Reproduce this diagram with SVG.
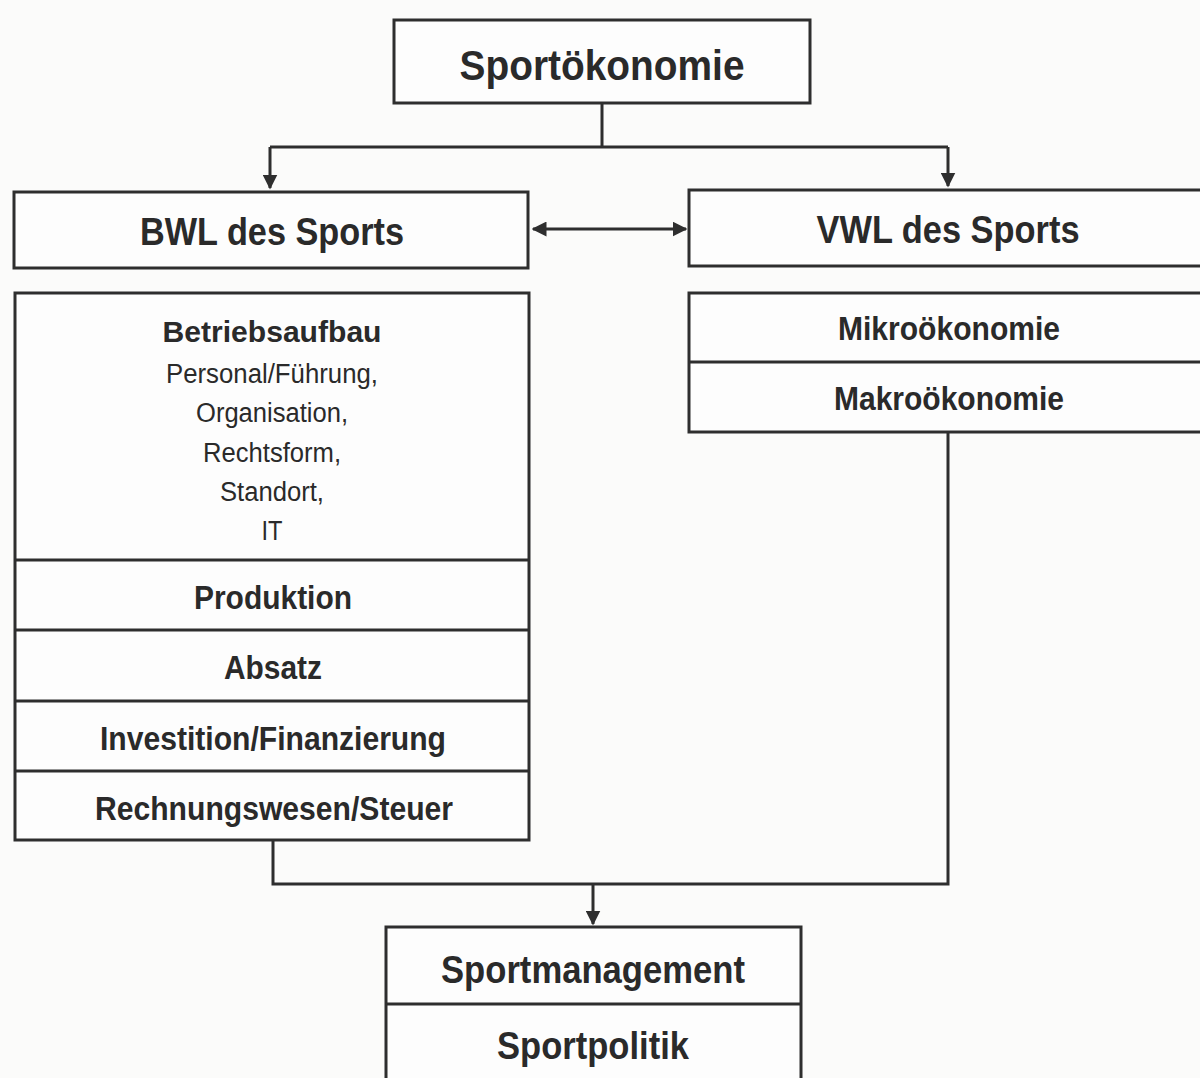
<svg xmlns="http://www.w3.org/2000/svg" width="1200" height="1078" viewBox="0 0 1200 1078">
<defs>
<style>
.box{fill:#fdfdfd;stroke:#2e2e2e;stroke-width:3}
.ln{fill:none;stroke:#2e2e2e;stroke-width:3}
.t{font-family:"Liberation Sans",Arial,sans-serif;fill:#2a2a2a;text-anchor:middle}
.b{font-weight:bold}
.h1{font-size:43px}
.h2{font-size:39px}
.h3{font-size:33px}
.h4{font-size:30px}
.r{font-size:27px}
</style>
<marker id="ah" viewBox="0 0 10 10" refX="9" refY="5" markerWidth="5" markerHeight="5" orient="auto-start-reverse" markerUnits="strokeWidth">
<path d="M0,0 L10,5 L0,10 z" fill="#2e2e2e"/>
</marker>
</defs>
<rect width="1200" height="1078" fill="#fbfbfa"/>
<g id="connectors">
<path class="ln" d="M602,103 V147 M270,147 H948"/>
<path class="ln" d="M270,147 V188" marker-end="url(#ah)"/>
<path class="ln" d="M948,147 V186" marker-end="url(#ah)"/>
<path class="ln" d="M533,229 H686" marker-start="url(#ah)" marker-end="url(#ah)"/>
<path class="ln" d="M273,840 V884 H948 V432"/>
<path class="ln" d="M593,884 V924" marker-end="url(#ah)"/>
</g>
<g id="sportoekonomie">
<rect class="box" x="394" y="20" width="416" height="83"/>
<text class="t b h1" x="602" y="80" textLength="285" lengthAdjust="spacingAndGlyphs">Sportökonomie</text>
</g>
<g id="bwl">
<rect class="box" x="14" y="192" width="514" height="76"/>
<text class="t b h2" x="272" y="245" textLength="264" lengthAdjust="spacingAndGlyphs">BWL des Sports</text>
</g>
<g id="vwl">
<rect class="box" x="689" y="190" width="530" height="76"/>
<text class="t b h2" x="948" y="243" textLength="263" lengthAdjust="spacingAndGlyphs">VWL des Sports</text>
</g>
<g id="bwl-list">
<rect class="box" x="15" y="293" width="514" height="547"/>
<path class="ln" d="M15,560 H529 M15,630 H529 M15,701 H529 M15,771 H529"/>
<text class="t b h4" x="272" y="342" textLength="219" lengthAdjust="spacingAndGlyphs">Betriebsaufbau</text>
<text class="t r" x="272" y="383" textLength="212" lengthAdjust="spacingAndGlyphs">Personal/Führung,</text>
<text class="t r" x="272" y="422" textLength="152" lengthAdjust="spacingAndGlyphs">Organisation,</text>
<text class="t r" x="272" y="462" textLength="138" lengthAdjust="spacingAndGlyphs">Rechtsform,</text>
<text class="t r" x="272" y="501" textLength="104" lengthAdjust="spacingAndGlyphs">Standort,</text>
<text class="t r" x="272" y="540" textLength="21" lengthAdjust="spacingAndGlyphs">IT</text>
<text class="t b h3" x="273" y="609" textLength="158" lengthAdjust="spacingAndGlyphs">Produktion</text>
<text class="t b h3" x="273" y="679" textLength="98" lengthAdjust="spacingAndGlyphs">Absatz</text>
<text class="t b h3" x="273" y="750" textLength="346" lengthAdjust="spacingAndGlyphs">Investition/Finanzierung</text>
<text class="t b h3" x="274" y="820" textLength="358" lengthAdjust="spacingAndGlyphs">Rechnungswesen/Steuer</text>
</g>
<g id="vwl-list">
<rect class="box" x="689" y="293" width="530" height="139"/>
<path class="ln" d="M689,362 H1200"/>
<text class="t b h3" x="949" y="340" textLength="222" lengthAdjust="spacingAndGlyphs">Mikroökonomie</text>
<text class="t b h3" x="949" y="410" textLength="230" lengthAdjust="spacingAndGlyphs">Makroökonomie</text>
</g>
<g id="sportmanagement">
<rect class="box" x="386" y="927" width="415" height="170"/>
<path class="ln" d="M386,1004 H801"/>
<text class="t b h2" x="593" y="983" textLength="304" lengthAdjust="spacingAndGlyphs">Sportmanagement</text>
<text class="t b h2" x="593" y="1059" textLength="192" lengthAdjust="spacingAndGlyphs">Sportpolitik</text>
</g>
</svg>
